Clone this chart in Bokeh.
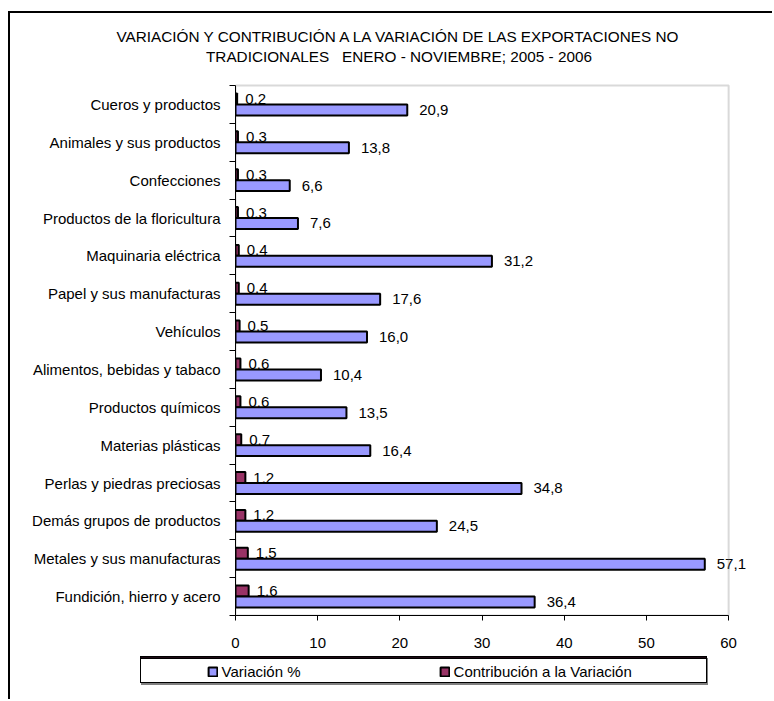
from bokeh.plotting import figure
from bokeh.models import (Range1d, FixedTicker, Label, LabelSet, BoxAnnotation, Legend,
                          LegendItem, ColumnDataSource)
from bokeh.core.properties import value
from bokeh.embed import file_html
from bokeh.resources import INLINE

# ---------------- data ----------------
categories = [
    "Cueros y productos",
    "Animales y sus productos",
    "Confecciones",
    "Productos de la floricultura",
    "Maquinaria eléctrica",
    "Papel y sus manufacturas",
    "Vehículos",
    "Alimentos, bebidas y tabaco",
    "Productos químicos",
    "Materias plásticas",
    "Perlas y piedras preciosas",
    "Demás grupos de productos",
    "Metales y sus manufacturas",
    "Fundición, hierro y acero",
]
variacion = [20.9, 13.8, 6.6, 7.6, 31.2, 17.6, 16.0, 10.4, 13.5, 16.4, 34.8, 24.5, 57.1, 36.4]
contribucion = [0.2, 0.3, 0.3, 0.3, 0.4, 0.4, 0.5, 0.6, 0.6, 0.7, 1.2, 1.2, 1.5, 1.6]
x_ticks = [0, 10, 20, 30, 40, 50, 60]
title_lines = [
    "VARIACIÓN Y CONTRIBUCIÓN A LA VARIACIÓN DE LAS EXPORTACIONES NO",
    "TRADICIONALES   ENERO - NOVIEMBRE; 2005 - 2006",
]
legend_labels = ["Variación %", "Contribución a la Variación"]

# ---------------- styling / layout ----------------
FONT = "Liberation Sans"
FS = "15px"
FS_TITLE = "15.3px"
COL_VAR = "#9999FF"
COL_CON = "#993366"
BAR = 0.29
X_AXIS_MAX = 60
X_VIEW_MAX = 64          # frame runs a little past the plot area so the 57,1 label is not cut
W = 764
TITLE_H = 72
H = 616
FRAME_L = 225
FRAME_W, FRAME_H = 526, 532
n = len(categories)
PX_Y = 530 / n
Y_VIEW_MAX = n + 2 / PX_Y

centers = [n - i - 0.5 for i in range(n)]


def fmt(v):
    return f"{v:.1f}".replace(".", ",")


src = ColumnDataSource(dict(
    yv=[c - BAR / 2 for c in centers],
    yc=[c + BAR / 2 for c in centers],
    var=variacion,
    con=contribucion,
    var_lbl=[fmt(v) for v in variacion],
    con_lbl=[fmt(v) for v in contribucion],
))

# ---------------- title strip ----------------
ptitle = figure(width=W, height=TITLE_H, title=None, x_range=Range1d(0, W),
                y_range=Range1d(0, TITLE_H), x_axis_type=None, y_axis_type=None,
                output_backend="svg", toolbar_location=None, min_border=0)
ptitle.outline_line_color = None
ptitle.xgrid.visible = False
ptitle.ygrid.visible = False
ptitle.background_fill_color = "white"
ptitle.border_fill_color = "white"
for txt, yy in zip(title_lines, (48.7, 28.7)):
    ptitle.add_layout(Label(x=388.5, y=yy, text=txt.replace("   ", " \u00a0 "),
                            text_align="center", text_baseline="alphabetic",
                            text_font=FONT, text_font_size=FS_TITLE, text_color="black"))
ptitle.margin = (11, 0, 0, 8)
ptitle.styles = {"border-left": "2px solid black", "border-top": "2px solid black"}

# ---------------- main chart ----------------
p = figure(width=W, height=H, title=None, x_range=Range1d(0, X_VIEW_MAX),
           y_range=Range1d(0, Y_VIEW_MAX), output_backend="svg", toolbar_location=None,
           min_border_left=FRAME_L, min_border_right=W - FRAME_L - FRAME_W,
           min_border_top=0, min_border_bottom=H - FRAME_H)
p.background_fill_color = "white"
p.border_fill_color = "white"
p.outline_line_color = None
p.xgrid.visible = False
p.ygrid.visible = False
p.margin = (0, 0, 0, 8)
p.styles = {"border-left": "2px solid black"}

# axes
xa = p.xaxis[0]
xa.ticker = FixedTicker(ticks=x_ticks)
xa.bounds = (0, X_AXIS_MAX)
xa.major_tick_out = 5
xa.major_tick_in = 0
xa.minor_tick_out = 0
xa.minor_tick_in = 0
xa.major_label_standoff = 17

ya = p.yaxis[0]
ya.ticker = FixedTicker(ticks=centers, minor_ticks=list(range(n + 1)))
ya.bounds = (0, n)
ya.major_label_overrides = {c: name for c, name in zip(centers, categories)}
ya.major_tick_out = 0
ya.major_tick_in = 0
ya.minor_tick_out = 6
ya.minor_tick_in = 0
ya.minor_tick_line_color = "black"
ya.major_label_standoff = 9

for ax in (xa, ya):
    ax.axis_line_color = "black"
    ax.axis_line_width = 1
    ax.major_tick_line_color = "black"
    ax.major_label_text_font = FONT
    ax.major_label_text_font_size = FS
    ax.major_label_text_color = "black"

# data labels (under the bars)
p.add_layout(LabelSet(x="var", y="yv", text="var_lbl", x_offset=12, source=src,
                      text_baseline="middle", text_font=value(FONT), text_font_size=value(FS),
                      text_color="black", level="underlay"))
p.add_layout(LabelSet(x="con", y="yc", text="con_lbl", x_offset=8, source=src,
                      text_baseline="middle", text_font=value(FONT), text_font_size=value(FS),
                      text_color="black", level="underlay"))

# plot-area border (grey), drawn over the labels but under bars and axes
p.add_layout(BoxAnnotation(left=0, right=X_AXIS_MAX, bottom=0, top=n,
                           fill_color=None, line_color="#808080", line_width=2,
                           level="underlay"))

# bars
r_con = p.hbar(y="yc", left=0, right="con", height=BAR, source=src,
               fill_color=COL_CON, line_color="black", line_width=2)
r_var = p.hbar(y="yv", left=0, right="var", height=BAR, source=src,
               fill_color=COL_VAR, line_color="black", line_width=2)

# ---------------- legend box (laid over the bottom of the chart) ----------------
pleg = figure(width=567, height=27, title=None, x_range=Range1d(0, 1), y_range=Range1d(-10, -9),
              x_axis_type=None, y_axis_type=None, output_backend="svg", toolbar_location=None,
              min_border=0)
pleg.outline_line_color = None
pleg.xgrid.visible = False
pleg.ygrid.visible = False
pleg.background_fill_color = "white"
pleg.border_fill_color = "white"
# same series as the main chart (outside this figure's view), used only for legend swatches
lv = pleg.hbar(y="yv", left=0, right="var", height=BAR, source=src,
               fill_color=COL_VAR, line_color="black", line_width=2)
lc = pleg.hbar(y="yc", left=0, right="con", height=BAR, source=src,
               fill_color=COL_CON, line_color="black", line_width=2)
legend = Legend(items=[LegendItem(label=legend_labels[0], renderers=[lv]),
                       LegendItem(label=legend_labels[1], renderers=[lc])],
                orientation="horizontal", location=(65.6, 4.2),
                padding=0, margin=0, spacing=0, glyph_width=11, glyph_height=11,
                label_standoff=4, label_width=217,
                label_text_font=FONT, label_text_font_size=FS, label_text_color="black",
                border_line_color=None, background_fill_alpha=0)
pleg.add_layout(legend, "center")
pleg.margin = (-43, 0, 0, 140)
pleg.styles = {"border": "1px solid black", "box-shadow": "1px 2px 0 #808080"}

open("out.html", "w").write(file_html([ptitle, p, pleg], INLINE))
